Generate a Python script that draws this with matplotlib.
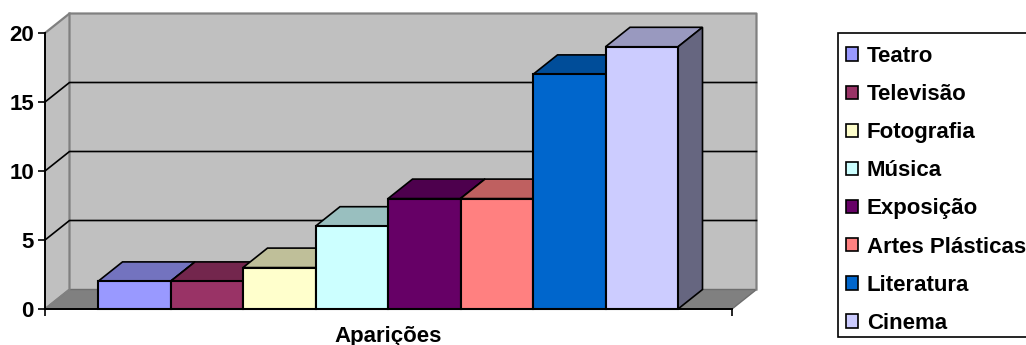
import matplotlib
matplotlib.use('Agg')
import matplotlib.pyplot as plt
from matplotlib.colors import to_rgb
from matplotlib.patches import Patch, Polygon, Rectangle

categories = ['Teatro', 'Televisão', 'Fotografia', 'Música', 'Exposição',
              'Artes Plásticas', 'Literatura', 'Cinema']
values = [2, 2, 3, 6, 8, 8, 17, 19]
colors = ['#9999FF', '#993366', '#FFFFCC', '#CCFFFF', '#660066', '#FF8080',
          '#0066CC', '#CCCCFF']
y_ticks = [0, 5, 10, 15, 20]
x_title = 'Aparições'

W, H = 1026, 345
plt.rcParams['font.family'] = ['Liberation Sans', 'DejaVu Sans']
plt.rcParams['font.weight'] = 'bold'
plt.rcParams['font.size'] = 16


def shade(color, k):
    return tuple(c * k for c in to_rgb(color))


fig = plt.figure(figsize=(W / 100, H / 100), dpi=100, facecolor='white')
# front plane of the fake 3d box, in pixels
left, right, y0, y20 = 45, 732, 309, 33
ax = fig.add_axes([left / W, 1 - y0 / H, (right - left) / W, (y0 - y20) / H])
ax.patch.set_visible(False)

bar_w_px = 72.5
first_bar_px = 98
x_min = (left - first_bar_px) / bar_w_px
x_max = (right - first_bar_px) / bar_w_px
ax.set_xlim(x_min, x_max)
ax.set_ylim(0, 20)

# depth offset in data units
dx = 24.5 / bar_w_px
dy = 19.5 / 13.8

# walls and floor
ax.add_patch(Polygon([(x_min, 0), (x_min + dx, dy), (x_max + dx, dy), (x_max + dx, 20 + dy),
                      (x_min + dx, 20 + dy), (x_min, 20)],
                     closed=True, fc='#C0C0C0', ec='none', clip_on=False, zorder=1))
ax.add_patch(Polygon([(x_min, 0), (x_max, 0), (x_max + dx, dy), (x_min + dx, dy)],
                     closed=True, fc='#808080', ec='#6E6E6E', lw=1, clip_on=False, zorder=1.2))
ax.plot([x_min, x_min + dx, x_max + dx, x_max + dx], [20, 20 + dy, 20 + dy, dy],
        color='#808080', lw=1.6, clip_on=False, zorder=1.3)
ax.plot([x_min, x_min + dx, x_min + dx], [0, dy, 20 + dy],
        color='#808080', lw=1.6, clip_on=False, zorder=1.3)

# gridlines go along the side wall then across the back
for t in y_ticks[1:-1]:
    ax.plot([x_min, x_min + dx, x_max + dx], [t, t + dy, t + dy],
            color='black', lw=1.2, clip_on=False, zorder=1.5)

for i, (v, c) in enumerate(zip(values, colors)):
    z = 2 + i
    ax.add_patch(Polygon([(i, v), (i + 1, v), (i + 1 + dx, v + dy), (i + dx, v + dy)],
                         closed=True, fc=shade(c, 0.75), ec='black', lw=1.2,
                         clip_on=False, zorder=z))
    ax.add_patch(Polygon([(i + 1, 0), (i + 1 + dx, dy), (i + 1 + dx, v + dy), (i + 1, v)],
                         closed=True, fc=shade(c, 0.5), ec='black', lw=1.2,
                         clip_on=False, zorder=z))
    ax.bar(i, v, width=1, align='edge', color=c, edgecolor='black', lw=1.5,
           clip_on=False, zorder=z + 0.5)

for name in ['top', 'right']:
    ax.spines[name].set_visible(False)
for name in ['left', 'bottom']:
    ax.spines[name].set_linewidth(1.4)
    ax.spines[name].set_zorder(20)

ax.set_yticks(y_ticks)
ax.set_xticks([x_min, x_max])
ax.set_xticklabels([])
ax.tick_params(axis='both', length=5, width=1.2, pad=3)
ax.set_xlabel(x_title, fontweight='bold', fontsize=16, labelpad=4)

# legend box runs off the right side of the figure
fig.add_artist(Rectangle((838 / W, 1 - 337 / H), 220 / W, 304 / H, transform=fig.transFigure,
                         fc='white', ec='black', lw=1.2))
handles = [Patch(facecolor=c, edgecolor='black', lw=1.2, label=n)
           for n, c in zip(categories, colors)]
fig.legend(handles=handles, loc='upper left', frameon=False,
           bbox_to_anchor=(846 / W, 1 - 46 / H), borderaxespad=0, borderpad=0,
           handlelength=0.55, handleheight=0.55, handletextpad=0.38,
           labelspacing=0.77, prop={'weight': 'bold', 'size': 16})

fig.savefig('out.png', dpi=100)
